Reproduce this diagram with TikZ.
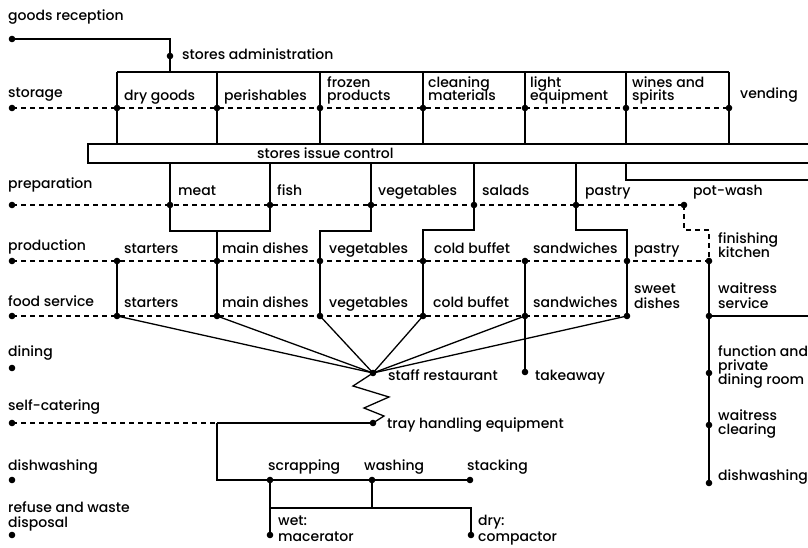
\documentclass[tikz,border=0pt]{standalone}
\usepackage{fontspec}
\newfontfamily\lblfont{Poppins Medium}
\begin{document}
\begin{tikzpicture}[x=1pt,y=-1pt,
 ln/.style={line width=1.6pt},
 dl/.style={line width=1.4pt,dash pattern=on 5pt off 4pt},
 fan/.style={line width=1.3pt},
 lab/.style={anchor=base west,inner sep=0pt,font=\lblfont\fontsize{14}{16}\selectfont}]
\useasboundingbox (0,0) rectangle (808,548);
% coordinates
\coordinate (gr) at (12,39);
\coordinate (sa) at (170,56);
\coordinate (sat) at (170,72);
\coordinate (st0) at (12,108);
\foreach \n/\x in {1/117,2/217,3/320,4/423,5/525,6/626,7/729}{
  \coordinate (s\n) at (\x,108);
  \coordinate (t\n) at (\x,72);
  \coordinate (b\n) at (\x,144);
}
\coordinate (p0) at (12,205);
\foreach \n/\x in {1/170,2/270,3/371,4/474,5/576}{
  \coordinate (p\n) at (\x,205);
  \coordinate (pb\n) at (\x,163);
}
\coordinate (pw) at (684,205);
\coordinate (q0) at (12,261);
\coordinate (f0) at (12,316);
\foreach \n/\x in {1/117,2/217,3/320,4/423,5/525,6/627}{
  \coordinate (q\n) at (\x,261);
  \coordinate (f\n) at (\x,316);
}
\coordinate (q7) at (709,261);
\coordinate (ws) at (709,316);
\coordinate (fp) at (709,373);
\coordinate (wc) at (709,425);
\coordinate (dw) at (709,483);
\coordinate (sr) at (373,373);
\coordinate (tk) at (525,372);
\coordinate (th) at (373,423);
\coordinate (sc0) at (12,423);
\coordinate (scj) at (217,423);
\coordinate (scd) at (217,480);
\coordinate (scr) at (270,480);
\coordinate (wsh) at (372,480);
\coordinate (stk) at (470,480);
\coordinate (mac) at (270,535);
\coordinate (cmp) at (471,535);
\coordinate (din) at (12,368);
\coordinate (dwl) at (12,480);
\coordinate (ref) at (12,535);

% goods reception / admin
\draw[ln] (gr) -| (sa) -- (sat);
\draw[ln] (t1) -- (t7);
\foreach \n in {1,...,7}{\draw[ln] (t\n) -- (b\n);}
\draw[dl] (st0) -- (s7);
% stores issue control box
\draw[ln] (808,144) -- (88,144) -- (88,163) -- (808,163);
\draw[ln] (626,163) -- (626,180) -- (808,180);
% preparation
\foreach \n in {1,...,5}{\draw[ln] (pb\n) -- (p\n);}
\draw[dl] (p0) -- (pw);
\draw[ln] (p1) -- (170,231) -- (270,231) -- (p2);
\draw[ln] (217,231) -- (q2);
\draw[ln] (p3) -- (371,231) -- (320,231) -- (q3);
\draw[ln] (p4) -- (474,230) -- (423,230) -- (q4);
\draw[ln] (p5) -- (576,230) -- (627,230) -- (q6);
\draw[dl] (pw) -- (684,230) -- (709,230) -- (q7);
% production
\draw[dl] (q0) -- (q7);
\foreach \n in {1,...,6}{\draw[ln] (q\n) -- (f\n);}
\draw[dl] (f0) -- (f6);
\draw[ln] (q7) -- (dw);
\draw[ln] (ws) -- (808,316);
% staff restaurant
\foreach \n in {1,...,6}{\draw[fan] (f\n) -- (sr);}
\draw[ln] (f5) -- (tk);
\draw[fan] (sr) -- (353,386) -- (389,397) -- (364,408) -- (384,416) -- (th);
% self-catering and dishwashing
\draw[dl] (sc0) -- (scj);
\draw[ln] (scj) -- (th);
\draw[ln] (scj) -- (scd) -- (stk);
\draw[ln] (scr) -- (mac);
\draw[ln] (wsh) -- (372,508);
\draw[ln] (270,508) -- (471,508) -- (cmp);

% dots
\foreach \c in {gr,sa,st0,s1,s2,s3,s4,s5,s6,s7,p0,p1,p2,p3,p4,p5,pw,q0,q1,q2,q3,q4,q5,q6,q7,f0,f1,f2,f3,f4,f5,f6,ws,fp,wc,dw,sr,tk,th,sc0,scr,wsh,stk,mac,cmp,din,dwl,ref}{
  \fill (\c) circle (3.3pt);
}

% labels
\node[lab] (lgr) at (8,21) {goods reception};
\node[lab] (lsa) at (182,60) {stores administration};
\node[lab] (lst) at (8,98) {storage};
\node[lab] (ldg) at (124,101) {dry goods};
\node[lab] (lpe) at (224,101) {perishables};
\node[lab] (lfa) at (327,88) {frozen};
\node[lab] (lfb) at (327,101) {products};
\node[lab] (lca) at (428,88) {cleaning};
\node[lab] (lcb) at (428,101) {materials};
\node[lab] (lla) at (530,88) {light};
\node[lab] (llb) at (530,101) {equipment};
\node[lab] (lwa) at (632,88) {wines and};
\node[lab] (lwb) at (632,101) {spirits};
\node[lab] (lve) at (740,99) {vending};
\node[lab] (lsic) at (257,159) {stores issue control};
\node[lab] (lpr) at (8,189) {preparation};
\node[lab] (lme) at (178,196) {meat};
\node[lab] (lfi) at (277,196) {fish};
\node[lab] (lvg) at (378,196) {vegetables};
\node[lab] (lsl) at (482,196) {salads};
\node[lab] (lpa) at (585,196) {pastry};
\node[lab] (lpw) at (693,196) {pot-wash};
\node[lab] (lpd) at (8,250) {production};
\node[lab] (lq1) at (124,253) {starters};
\node[lab] (lq2) at (222,253) {main dishes};
\node[lab] (lq3) at (329,253) {vegetables};
\node[lab] (lq4) at (434,253) {cold buffet};
\node[lab] (lq5) at (533,253) {sandwiches};
\node[lab] (lq6) at (634,253) {pastry};
\node[lab] (lfka) at (718,243) {finishing};
\node[lab] (lfkb) at (718,257) {kitchen};
\node[lab] (lfs) at (8,306) {food service};
\node[lab] (lf1) at (124,307) {starters};
\node[lab] (lf2) at (222,307) {main dishes};
\node[lab] (lf3) at (329,307) {vegetables};
\node[lab] (lf4) at (433,307) {cold buffet};
\node[lab] (lf5) at (533,307) {sandwiches};
\node[lab] (lf6a) at (634,293) {sweet};
\node[lab] (lf6b) at (634,308) {dishes};
\node[lab] (lwsa) at (718,293) {waitress};
\node[lab] (lwsb) at (718,308) {service};
\node[lab] (ldi) at (8,356) {dining};
\node[lab] (lsr) at (388,380) {staff restaurant};
\node[lab] (ltk) at (535,380) {takeaway};
\node[lab] (lfpa) at (718,356) {function and};
\node[lab] (lfpb) at (718,370) {private};
\node[lab] (lfpc) at (718,384) {dining room};
\node[lab] (lsc) at (8,410) {self-catering};
\node[lab] (lth) at (387,428) {tray handling equipment};
\node[lab] (lwca) at (718,420) {waitress};
\node[lab] (lwcb) at (718,434) {clearing};
\node[lab] (ldwl) at (8,470) {dishwashing};
\node[lab] (lscr) at (268,470) {scrapping};
\node[lab] (lwsh) at (364,470) {washing};
\node[lab] (lstk) at (467,470) {stacking};
\node[lab] (ldwr) at (718,480) {dishwashing};
\node[lab] (lrfa) at (8,512) {refuse and waste};
\node[lab] (lrfb) at (8,527) {disposal};
\node[lab] (lwta) at (278,525) {wet:};
\node[lab] (lwtb) at (278,541) {macerator};
\node[lab] (ldya) at (478,525) {dry:};
\node[lab] (ldyb) at (478,541) {compactor};
\end{tikzpicture}
\end{document}
